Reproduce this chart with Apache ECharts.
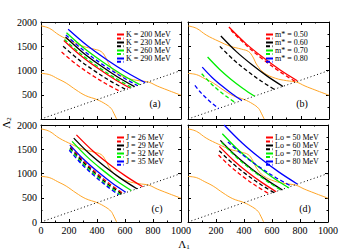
<!DOCTYPE html>
<html><head><meta charset="utf-8">
<script src="https://cdn.jsdelivr.net/npm/echarts@6/dist/echarts.min.js"></script>
<style>html,body{margin:0;padding:0;background:#fff}#c{width:341px;height:251px}</style>
</head><body><div id="c"></div>
<script>
// ---- data (Λ1, Λ2) ----
const xTickValues = [0, 200, 400, 600, 800, 1000];
const yTickValues = [0, 500, 1000, 1500, 2000];

const orangeUpper = [[0,1920],[60,1870],[130,1730],[220,1600],[300,1500],[380,1440],[430,1390],[460,1280],[490,1110],[540,950],[620,840],[700,790],[770,760],[830,680],[900,600],[1000,490]];
const orangeLower = [[0,940],[60,915],[120,830],[180,740],[250,600],[320,480],[400,400],[460,310],[500,220],[520,120],[540,0]];
const diagonal = [[0,0],[1000,1000]];

const kNames = ['K = 200 MeV','K = 230 MeV','K = 260 MeV','K = 290 MeV'];
const kSolid = [
  [[163,1620],[281,1316],[399,1061],[517,836],[635,640]],
  [[175,1690],[298,1373],[422,1107],[545,872],[668,668]],
  [[182,1780],[313,1448],[444,1170],[574,924],[705,710]],
  [[194,1850],[332,1509],[470,1223],[607,970],[745,750]]
];
const kDashed = [
  [[147,1380],[252,1129],[356,918],[461,732],[565,570]],
  [[158,1500],[270,1224],[382,993],[493,788],[605,610]],
  [[168,1640],[288,1333],[408,1076],[528,848],[648,650]],
  [[178,1730],[306,1408],[433,1137],[561,898],[688,690]]
];

const mNames = ['m* = 0.50','m* = 0.60','m* = 0.70','m* = 0.80'];
const mSolid = [
  [[290,1897],[411,1554],[533,1266],[654,1011],[775,790]],
  [[233,1711],[343,1389],[454,1118],[564,879],[674,671]],
  [[139,1277],[223,1026],[306,816],[390,630],[473,468]],
  [[101,1070],[171,857],[242,678],[312,520],[382,382]]
];
const mDashed = [
  [[305,1830],[420,1500],[535,1223],[650,978],[765,765]],
  [[226,1498],[323,1221],[421,989],[518,784],[615,605]],
  [[97,934],[157,749],[216,594],[276,457],[335,338]],
  [[49,692],[91,544],[134,420],[176,310],[218,214]]
];

const jNames = ['J = 26 MeV','J = 29 MeV','J = 32 MeV','J = 35 MeV'];
const jSolid = [
  [[253,1796],[371,1464],[490,1186],[608,940],[726,726]],
  [[234,1730],[347,1406],[460,1134],[572,894],[685,685]],
  [[222,1662],[328,1348],[434,1085],[539,852],[645,650]],
  [[206,1590],[306,1288],[406,1034],[505,810],[605,615]]
];
const jDashed = [
  [[212,1555],[305,1256],[399,1005],[492,783],[585,590]],
  [[208,1530],[300,1236],[392,989],[483,770],[575,580]],
  [[205,1505],[295,1215],[385,972],[475,757],[565,570]],
  [[202,1480],[290,1195],[379,956],[467,744],[555,560]]
];

const loNames = ['Lo = 50 MeV','Lo = 60 MeV','Lo = 70 MeV','Lo = 80 MeV'];
const loSolid = [
  [[224,1560],[326,1270],[427,1027],[529,812],[630,625]],
  [[231,1682],[342,1365],[453,1099],[564,864],[675,660]],
  [[245,1820],[364,1473],[484,1182],[603,924],[722,700]],
  [[258,2000],[389,1623],[519,1307],[650,1028],[780,785]]
];
const loDashed = [
  [[218,1380],[308,1133],[398,925],[488,742],[578,582]],
  [[223,1470],[321,1202],[419,977],[517,778],[615,605]],
  [[240,1640],[346,1335],[453,1079],[559,852],[665,655]],
  [[285,1650],[399,1366],[513,1128],[626,918],[740,735]]
];

const panelTags = ['(a)','(b)','(c)','(d)'];

// ---- styling / layout ----
const colors = ['#ff0000','#000000','#00ee00','#0000ff'];
const orange = '#ffa526';
const serif = 'Liberation Serif';
const grids = [
  {left:41, top:22, width:140, height:97},
  {left:188, top:22, width:141, height:97},
  {left:41, top:125, width:140, height:97},
  {left:188, top:125, width:141, height:97}
];
const panels = [
  {names:kNames, solid:kSolid, dashed:kDashed, xLab:false, yLab:true, x0:false, y0:false},
  {names:mNames, solid:mSolid, dashed:mDashed, xLab:false, yLab:false},
  {names:jNames, solid:jSolid, dashed:jDashed, xLab:true, yLab:true, x0:true, y0:true},
  {names:loNames, solid:loSolid, dashed:loDashed, xLab:true, yLab:false, x0:false}
];

const xAxes = [], yAxes = [], series = [], legends = [], graphics = [];
function axisBase(){
  return {
    axisLine:{show:true, onZero:false, lineStyle:{color:'#000', width:1}},
    axisTick:{show:true, inside:true, length:3, lineStyle:{color:'#000', width:1}},
    minorTick:{show:true, splitNumber:2, length:1.5, lineStyle:{color:'#000', width:1}},
    splitLine:{show:false},
  };
}
panels.forEach((p, i) => {
  xAxes.push(Object.assign(axisBase(), {
    type:'value', gridIndex:i, position:'bottom', min:0, max:1000, interval:200,
    axisLabel:{show:p.xLab, fontFamily:serif, fontSize:10, color:'#000', margin:3,
      formatter: v => (v === 0 && !p.x0) ? '' : String(v)}
  }));
  xAxes.push(Object.assign(axisBase(), {
    type:'value', gridIndex:i, position:'top', min:0, max:1000, interval:200,
    axisLabel:{show:false}
  }));
  yAxes.push(Object.assign(axisBase(), {
    type:'value', gridIndex:i, position:'left', min:0, max:2000, interval:500,
    axisLabel:{show:p.yLab, fontFamily:serif, fontSize:10, color:'#000', margin:4,
      formatter: v => (v === 0 && !p.y0) ? '' : String(v)}
  }));
  yAxes.push(Object.assign(axisBase(), {
    type:'value', gridIndex:i, position:'right', min:0, max:2000, interval:500,
    axisLabel:{show:false}
  }));
  const xi = 2*i, yi = 2*i;
  const common = {type:'line', xAxisIndex:xi, yAxisIndex:yi, symbol:'none', silent:true, animation:false};
  series.push(Object.assign({}, common, {name:'orangeU'+i, data:orangeUpper, smooth:0.4, lineStyle:{color:orange, width:1}}));
  series.push(Object.assign({}, common, {name:'orangeL'+i, data:orangeLower, smooth:0.4, lineStyle:{color:orange, width:1}}));
  series.push(Object.assign({}, common, {name:'diag'+i, data:diagonal, lineStyle:{color:'#000', width:1, type:[1,2.5]}}));
  const solidNames = [], dashNames = [];
  p.names.forEach((n, k) => {
    series.push(Object.assign({}, common, {name:n, data:p.solid[k], smooth:0.35, color:colors[k], lineStyle:{color:colors[k], width:1.3}}));
    series.push(Object.assign({}, common, {name:n+' ', data:p.dashed[k], smooth:0.35, color:colors[k], lineStyle:{color:colors[k], width:1.3, type:[4,2.5]}}));
    solidNames.push(n); dashNames.push(n+' ');
  });
  const g = grids[i];
  const lLeft = (i % 2 === 0) ? 116 : 265;
  const lTop = g.top + 8.5;
  const legBase = {orient:'vertical', left:lLeft, itemWidth:7, itemHeight:8.6, itemGap:0, padding:0,
    selectedMode:false, itemStyle:{opacity:0},
    textStyle:{fontFamily:serif, fontSize:8, color:'#000', padding:[0,0,0,-3]}};
  legends.push(Object.assign({}, legBase, {top:lTop, data:solidNames}));
  legends.push(Object.assign({}, legBase, {top:lTop+3.8, data:dashNames, formatter:()=>''}));
  const tagPos = [[155,103],[302,103],[157,208],[305,208]][i];
  graphics.push({type:'text', x:tagPos[0], y:tagPos[1], style:{text:panelTags[i], font:'10px "Liberation Serif"', fill:'#000', align:'center', verticalAlign:'middle'}});
});

graphics.push({type:'text', x:6, y:123, rotation:Math.PI/2,
  style:{text:'{a|Λ}{b|2}', rich:{a:{fontFamily:serif, fontSize:11, fill:'#000'}, b:{fontFamily:serif, fontSize:7, fill:'#000', verticalAlign:'bottom', padding:[6,0,0,0]}}, align:'center', verticalAlign:'middle'}});
graphics.push({type:'text', x:184, y:244,
  style:{text:'{a|Λ}{b|1}', rich:{a:{fontFamily:serif, fontSize:11, fill:'#000'}, b:{fontFamily:serif, fontSize:7, fill:'#000', padding:[6,0,0,0]}}, align:'center', verticalAlign:'middle'}});

const chart = echarts.init(document.getElementById('c'), null, {renderer:'svg'});
chart.setOption({
  animation:false,
  backgroundColor:'#fff',
  grid:grids,
  xAxis:xAxes,
  yAxis:yAxes,
  legend:legends,
  series:series,
  graphic:graphics
});
</script></body></html>
